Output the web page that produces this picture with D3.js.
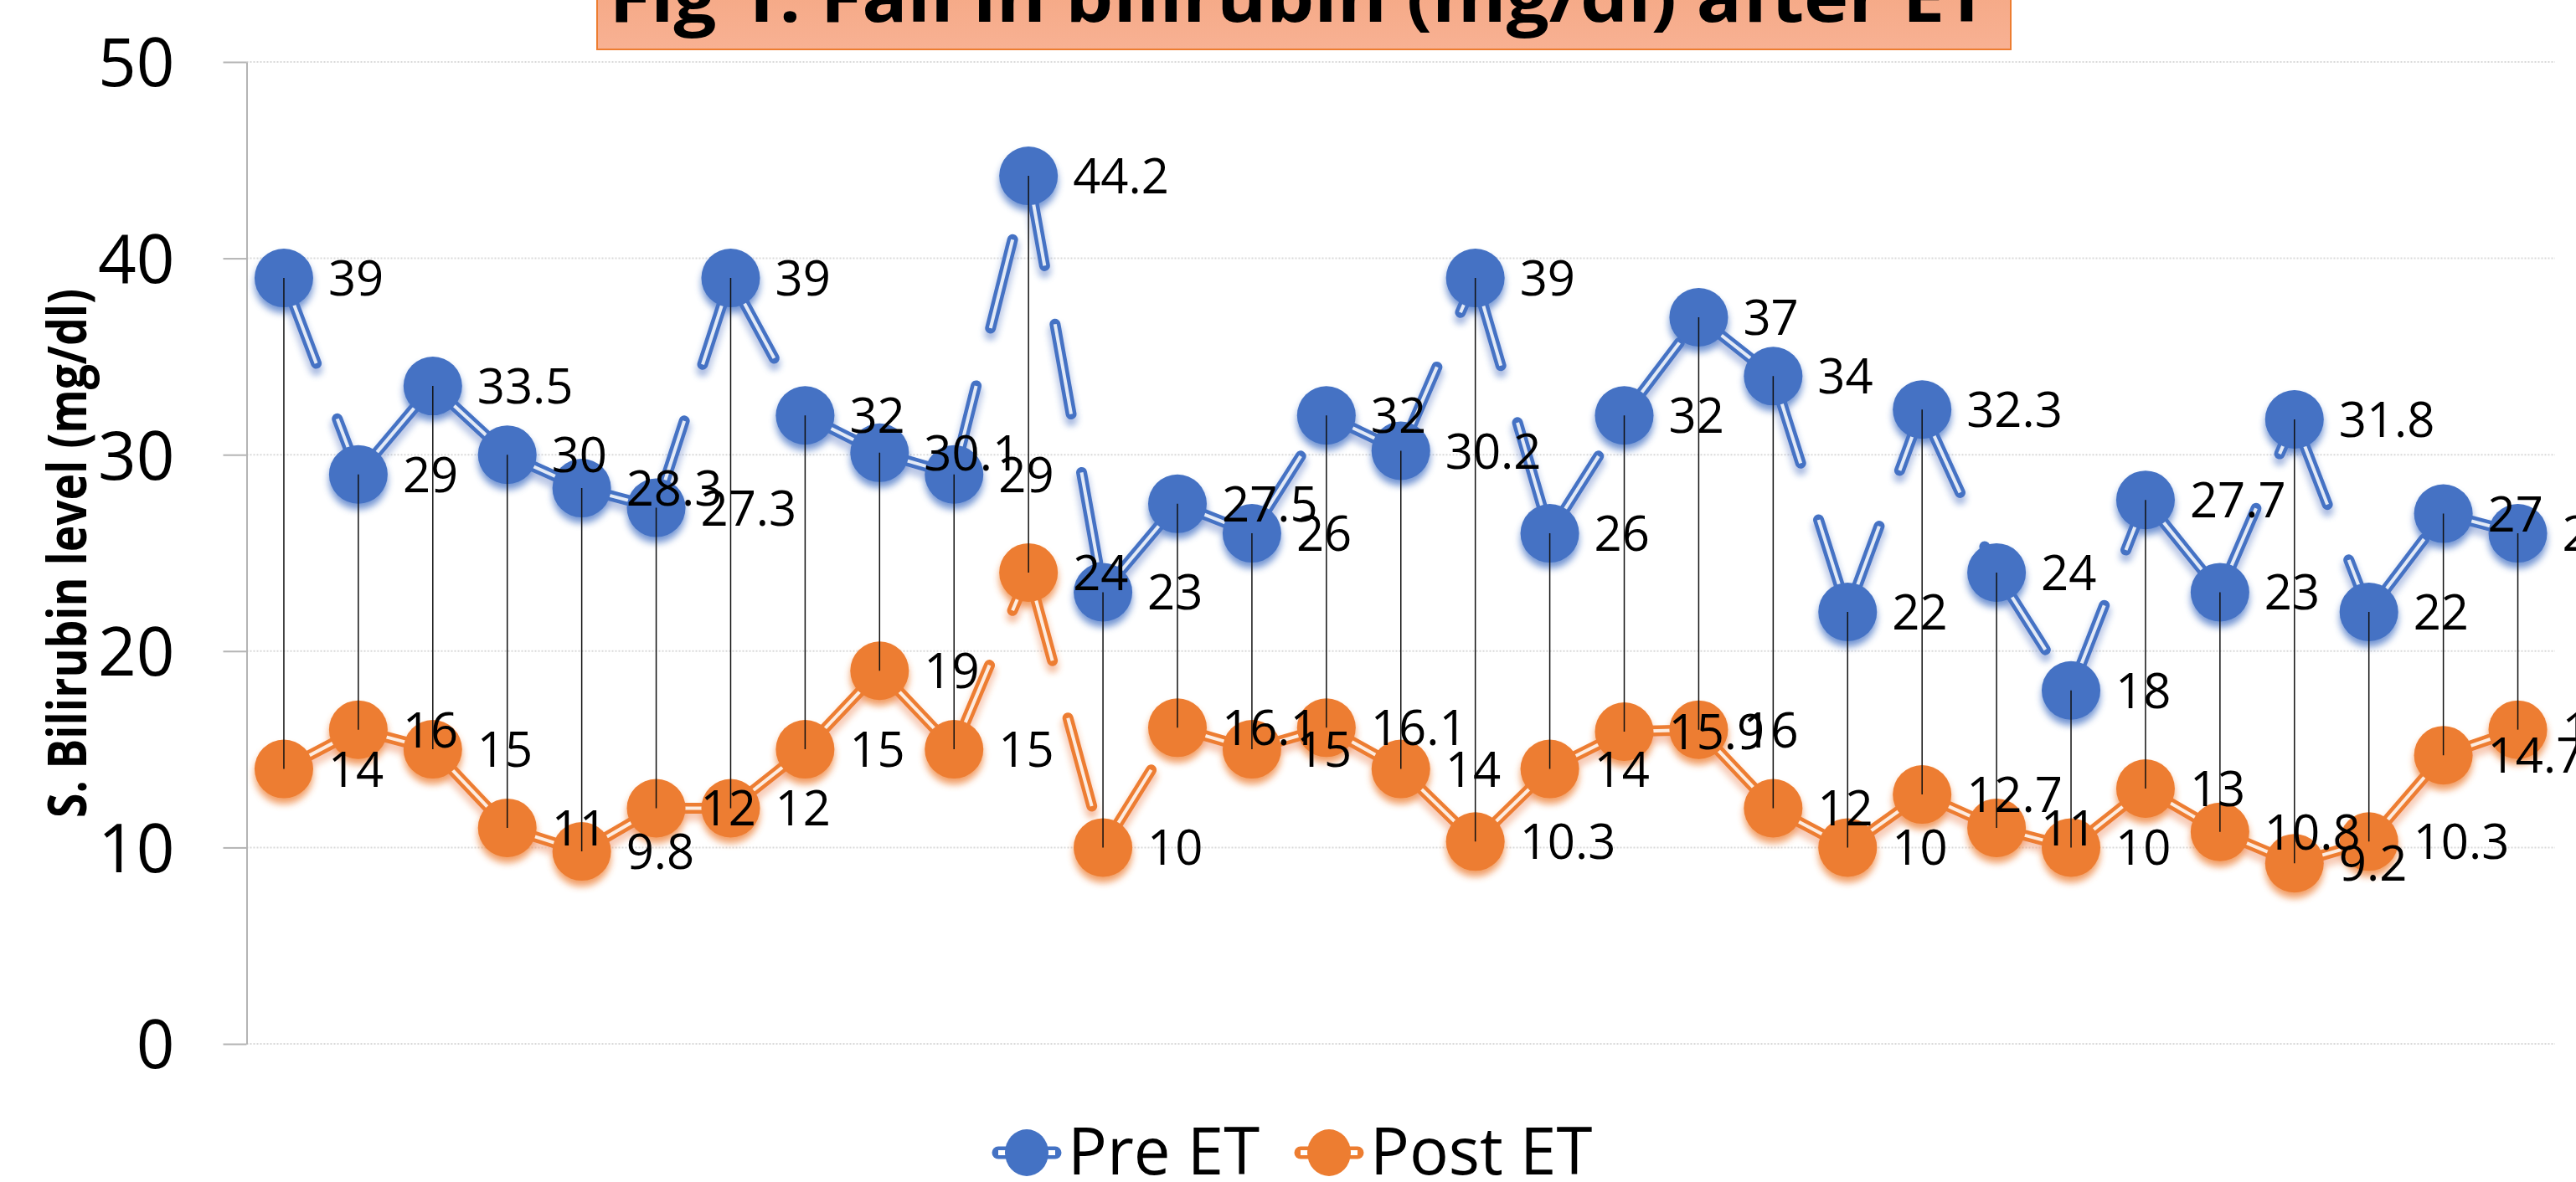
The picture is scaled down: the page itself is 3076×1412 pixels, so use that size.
<!DOCTYPE html>
<html>
<head>
<meta charset="utf-8">
<script src="https://cdn.jsdelivr.net/npm/d3@7/dist/d3.min.js"></script>
<style>
  html, body { margin: 0; padding: 0; background: #ffffff; }
  svg { display: block; }
</style>
</head>
<body>
<svg id="chartSVG" width="3076" height="1412"></svg>
<script>
// values, one pair per baby
var cases = d3.range(1, 32);
var preET = [39, 29, 33.5, 30, 28.3, 27.3, 39, 32, 30.1, 29, 44.2, 23, 27.5, 26, 32, 30.2,
             39, 26, 32, 37, 34, 22, 32.3, 24, 18, 27.7, 23, 31.8, 22, 27, 26];
var postET = [14, 16, 15, 11, 9.8, 12, 12, 15, 19, 15, 24, 10, 16.1, 15, 16.1, 14,
              10.3, 14, 15.9, 16, 12, 10, 12.7, 11, 10, 13, 10.8, 9.2, 10.3, 14.7, 16];
var seriesNames = ["Pre ET", "Post ET"];
var yTicks = [0, 10, 20, 30, 40, 50];
var chartTitle = "Fig 1: Fall in bilirubin (mg/dl) after ET";
var yTitle = "S. Bilirubin level (mg/dl)";

var colors = ["#4472C4", "#ED7D31"];
var series = [preET, postET];

var svg = d3.select("#chartSVG");
var defs = svg.append("defs");

// soft shadow under lines and markers, one per colour
colors.forEach(function(c, k){
    var f = defs.append("filter").attr("id", "shadow" + k)
        .attr("x", "-5%").attr("y", "-10%").attr("width", "110%").attr("height", "120%");
    f.append("feGaussianBlur").attr("in", "SourceGraphic").attr("stdDeviation", 4).attr("result", "b");
    f.append("feOffset").attr("in", "b").attr("dy", 7).attr("result", "o");
    var ct = f.append("feComponentTransfer").attr("in", "o").attr("result", "s");
    ct.append("feFuncA").attr("type", "linear").attr("slope", 0.75);
    var m = f.append("feMerge");
    m.append("feMergeNode").attr("in", "s");
    m.append("feMergeNode").attr("in", "SourceGraphic");
});

var grad = defs.append("linearGradient").attr("id", "titleFill")
    .attr("x1", 0).attr("y1", 0).attr("x2", 0).attr("y2", 1);
grad.append("stop").attr("offset", "0%").attr("stop-color", "#F4A783");
grad.append("stop").attr("offset", "100%").attr("stop-color", "#F8B193");

// plot area (window.top is reserved, so own names)
var plotLeft = 294.5, plotRight = 3051, plotTop = 74, plotBottom = 1247;

var xScale = d3.scalePoint()
    .domain(cases)
    .range([plotLeft, plotRight])
    .padding(0.5);

var yScale = d3.scaleLinear()
    .domain([0, 50])
    .range([plotBottom, plotTop]);

// dotted gridlines
svg.append("g").attr("class", "grid")
    .selectAll("line")
    .data(yTicks).enter()
    .append("line")
    .attr("x1", plotLeft).attr("x2", plotRight)
    .attr("y1", function(d){ return yScale(d); })
    .attr("y2", function(d){ return yScale(d); })
    .attr("stroke", "#D9D9D9")
    .attr("stroke-width", 2)
    .attr("stroke-dasharray", "2,2");

// y axis
var yAxis = svg.append("g")
    .attr("class", "yScale")
    .attr("transform", "translate(" + plotLeft + ",0)")
    .call(d3.axisLeft(yScale).tickValues(yTicks).tickSize(28).tickSizeOuter(0).tickPadding(58));
yAxis.select(".domain").attr("stroke", "#B4B4B4").attr("stroke-width", 2);
yAxis.selectAll(".tick line").attr("stroke", "#B4B4B4").attr("stroke-width", 2);
yAxis.selectAll(".tick text")
    .attr("fill", "#000")
    .attr("dy", "0.36em")
    .style("font-family", "'Open Sans', sans-serif")
    .style("font-size", "80px");

// lines: every segment restarts the long-dash pattern, double line look
series.forEach(function(vals, k){
    var pts = vals.map(function(v, i){ return [xScale(cases[i]), yScale(v)]; });
    var segs = d3.pairs(pts);
    var g = svg.append("g").attr("class", "series" + k).attr("filter", "url(#shadow" + k + ")");

    g.selectAll(".seg")
        .data(segs).enter()
        .append("path")
        .attr("class", "seg")
        .attr("d", function(p){ return d3.line()(p); })
        .attr("fill", "none")
        .attr("stroke", colors[k])
        .attr("stroke-width", 13)
        .attr("stroke-linecap", "round")
        .attr("stroke-dasharray", "109 71");

    g.selectAll(".segInner")
        .data(segs).enter()
        .append("path")
        .attr("class", "segInner")
        .attr("d", function(p){ return d3.line()(p); })
        .attr("fill", "none")
        .attr("stroke", "#ffffff")
        .attr("stroke-opacity", 0.85)
        .attr("stroke-width", 4)
        .attr("stroke-dasharray", "109 71");

    g.selectAll(".dot")
        .data(vals).enter()
        .append("circle")
        .attr("class", "dot")
        .attr("cx", function(v, i){ return xScale(cases[i]); })
        .attr("cy", function(v){ return yScale(v); })
        .attr("r", 35)
        .attr("fill", colors[k]);
});

// high-low lines
svg.append("g").attr("class", "hilo")
    .selectAll("line")
    .data(cases).enter()
    .append("line")
    .attr("x1", function(c){ return xScale(c); })
    .attr("x2", function(c){ return xScale(c); })
    .attr("y1", function(c, i){ return yScale(preET[i]); })
    .attr("y2", function(c, i){ return yScale(postET[i]); })
    .attr("stroke", "#111")
    .attr("stroke-width", 1.5);

// data labels to the right of each marker
series.forEach(function(vals, k){
    svg.append("g").attr("class", "labels" + k)
        .selectAll("text")
        .data(vals).enter()
        .append("text")
        .attr("x", function(v, i){ return xScale(cases[i]) + 53; })
        .attr("y", function(v){ return yScale(v) + 21; })
        .style("font-family", "'Open Sans', sans-serif")
        .style("font-size", "58px")
        .attr("fill", "#000")
        .text(function(v){ return v; });
});

// title box
var titleBox = svg.append("g").attr("class", "title");
titleBox.append("rect")
    .attr("x", 713).attr("y", -30)
    .attr("width", 1688).attr("height", 89)
    .attr("fill", "url(#titleFill)")
    .attr("stroke", "#ED7D31")
    .attr("stroke-width", 2);
titleBox.append("text")
    .attr("x", 1551).attr("y", 26)
    .attr("text-anchor", "middle")
    .attr("textLength", 1647)
    .attr("lengthAdjust", "spacingAndGlyphs")
    .style("font-family", "'Open Sans', sans-serif")
    .style("font-weight", "bold")
    .style("font-size", "82px")
    .attr("fill", "#000")
    .text(chartTitle);

// y axis title
svg.append("text")
    .attr("transform", "translate(103,661) rotate(-90)")
    .attr("text-anchor", "middle")
    .attr("textLength", 632)
    .attr("lengthAdjust", "spacingAndGlyphs")
    .style("font-family", "'Liberation Sans Narrow', 'Open Sans', sans-serif")
    .style("font-weight", "bold")
    .style("font-size", "64px")
    .attr("fill", "#000")
    .text(yTitle);

// legend
var legendX = [1226, 1587];
var legend = svg.append("g").attr("class", "legend")
    .selectAll("g")
    .data(seriesNames).enter()
    .append("g")
    .attr("transform", function(d, k){ return "translate(" + legendX[k] + ",1377)"; });

legend.append("line")
    .attr("x1", -34).attr("x2", 34)
    .attr("stroke", function(d, k){ return colors[k]; })
    .attr("stroke-width", 15)
    .attr("stroke-linecap", "round");
legend.append("line")
    .attr("x1", -34).attr("x2", 34)
    .attr("stroke", "#ffffff")
    .attr("stroke-width", 6);
legend.append("ellipse")
    .attr("rx", 26).attr("ry", 28)
    .attr("fill", function(d, k){ return colors[k]; });
legend.append("text")
    .attr("x", 49).attr("y", 26)
    .style("font-family", "'Open Sans', sans-serif")
    .style("font-size", "78px")
    .attr("fill", "#000")
    .text(function(d){ return d; });
</script>
</body>
</html>
